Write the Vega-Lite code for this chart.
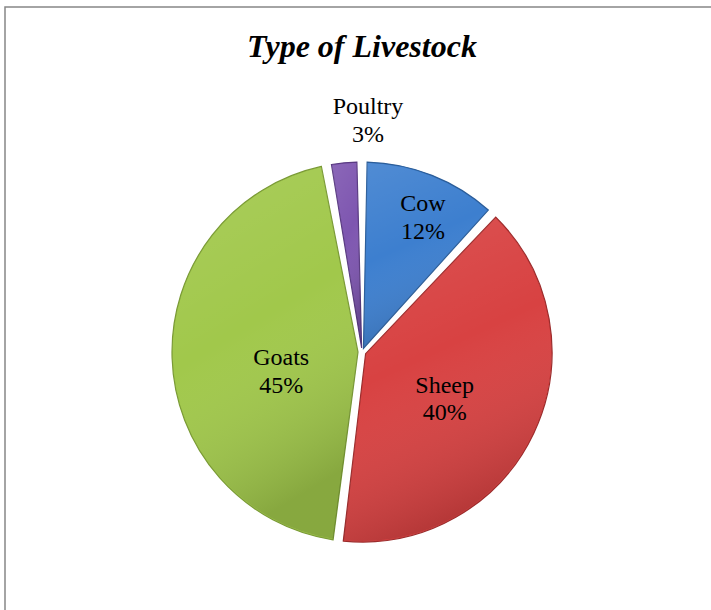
{
  "$schema": "https://vega.github.io/schema/vega-lite/v6.json",
  "autosize": "none",
  "width": 714,
  "height": 690,
  "padding": {"left": 5, "top": 7, "right": 0, "bottom": 0},
  "background": "white",
  "view": {"stroke": "#878787", "strokeWidth": 1.5, "fill": "white"},
  "title": {
    "text": "Type of Livestock",
    "font": "Times New Roman, Liberation Serif, Tinos, serif",
    "fontSize": 32,
    "fontWeight": "bold",
    "fontStyle": "italic",
    "color": "black",
    "anchor": "middle",
    "offset": -57
  },
  "data": {
    "values": [
      {"name": "Cow", "value": 12, "idx": 1, "label": "Cow\n12%"},
      {"name": "Sheep", "value": 40, "idx": 2, "label": "Sheep\n40%"},
      {"name": "Goats", "value": 45, "idx": 3, "label": "Goats\n45%"},
      {"name": "Poultry", "value": 3, "idx": 4, "label": "Poultry\n3%"}
    ]
  },
  "encoding": {
    "theta": {"field": "value", "type": "quantitative", "stack": true},
    "order": {"field": "idx", "type": "quantitative"}
  },
  "layer": [
    {
      "mark": {"type": "arc", "radius": 190, "innerRadius": 4, "padAngle": 0.054, "strokeWidth": 1.2},
      "encoding": {
        "color": {
          "field": "name", "type": "nominal", "legend": null,
          "scale": {"domain": ["Cow", "Sheep", "Goats", "Poultry"], "range": ["#3d7fcf", "#d84242", "#a1c84b", "#7e56b0"]}
        },
        "stroke": {
          "field": "name", "type": "nominal", "legend": null,
          "scale": {"domain": ["Cow", "Sheep", "Goats", "Poultry"], "range": ["#2b5d99", "#9c2c2c", "#7a9a36", "#5a3b82"]}
        }
      }
    },
    {
      "mark": {
        "type": "arc", "radius": 189, "innerRadius": 4, "padAngle": 0.054,
        "fill": {"gradient": "linear", "x1": 0, "y1": 0, "x2": 0.3, "y2": 1,
          "stops": [{"offset": 0, "color": "rgba(255,255,255,0.1)"}, {"offset": 0.5, "color": "rgba(255,255,255,0)"}, {"offset": 1, "color": "rgba(0,0,0,0.16)"}]}
      }
    },
    {
      "mark": {"type": "text", "radius": 148, "thetaOffset": 0.047, "dy": -13, "font": "Times New Roman, Liberation Serif, Tinos, serif", "fontSize": 24, "lineBreak": "\n", "lineHeight": 27.6, "color": "black"},
      "encoding": {"text": {"condition": {"test": "datum.name === 'Cow'", "field": "label"}, "value": ""}}
    },
    {
      "mark": {"type": "text", "radius": 95, "thetaOffset": 0.075, "dy": -13, "font": "Times New Roman, Liberation Serif, Tinos, serif", "fontSize": 24, "lineBreak": "\n", "lineHeight": 27.6, "color": "black"},
      "encoding": {"text": {"condition": {"test": "datum.name === 'Sheep'", "field": "label"}, "value": ""}}
    },
    {
      "mark": {"type": "text", "radius": 83, "thetaOffset": -0.2, "dy": -13, "font": "Times New Roman, Liberation Serif, Tinos, serif", "fontSize": 24, "lineBreak": "\n", "lineHeight": 27.6, "color": "black"},
      "encoding": {"text": {"condition": {"test": "datum.name === 'Goats'", "field": "label"}, "value": ""}}
    },
    {
      "mark": {"type": "text", "radius": 233, "thetaOffset": 0.12, "dy": -12, "font": "Times New Roman, Liberation Serif, Tinos, serif", "fontSize": 24, "lineBreak": "\n", "lineHeight": 27.6, "color": "black"},
      "encoding": {"text": {"condition": {"test": "datum.name === 'Poultry'", "field": "label"}, "value": ""}}
    }
  ]
}
